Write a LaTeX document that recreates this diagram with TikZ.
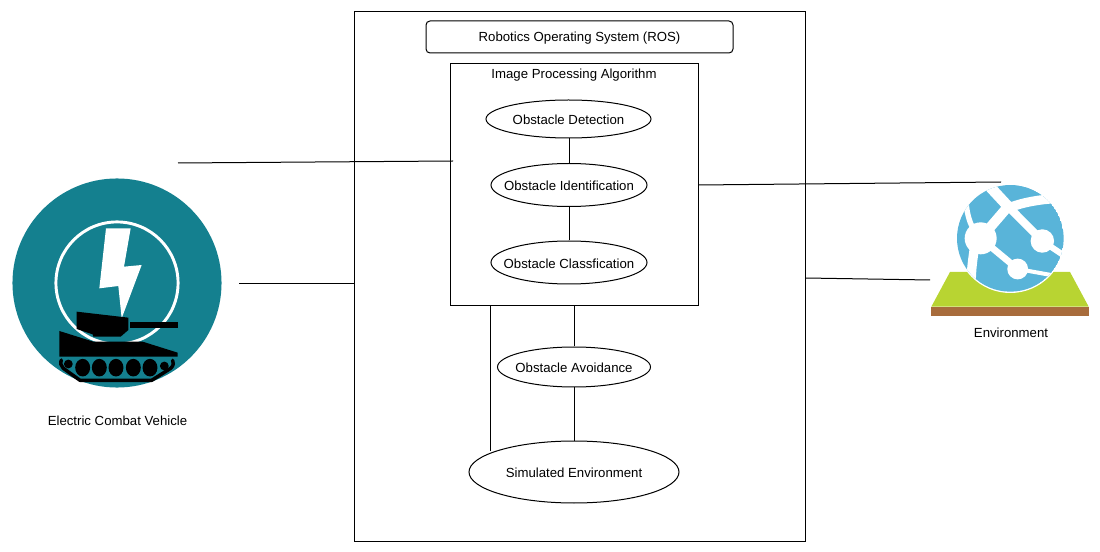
\documentclass[tikz,border=0pt]{standalone}
\usepackage{fontspec}
\setmainfont{Liberation Sans}
\usetikzlibrary{shapes.geometric}

\definecolor{vehicleteal}{HTML}{14808F}
\definecolor{globeblue}{HTML}{59B4D9}
\definecolor{landgreen}{HTML}{B8D432}
\definecolor{landbrown}{HTML}{A86C3C}

\begin{document}
\begin{tikzpicture}[
  x=0.75pt, y=-0.75pt,
  every node/.style={font=\fontsize{9.9}{12}\selectfont},
  every label/.style={yshift=-0.75pt},
  box/.style={rectangle, draw, line width=0.75pt, inner sep=0pt},
  oval/.style={ellipse, draw, line width=0.75pt, inner sep=0pt},
  link/.style={draw, line width=0.75pt},
  caption/.style={inner sep=1pt}
]
\useasboundingbox (0,0) rectangle (1100,552);

% Frames
\node[box, minimum width=338.25pt, minimum height=396.75pt] (ros) at (579.5,276.5) {};
\node[box, rounded corners=3pt, minimum width=230.25pt, minimum height=24pt, label=center:{Robotics Operating System (ROS)}] (rostitle) at (579.5,37) {};
\node[box, minimum width=186pt, minimum height=181.5pt] (imgbox) at (574,185) {};
\node[caption] (imgtitle) at (574,74.8) {Image Processing Algorithm};

% Ellipses
\node[oval, minimum width=123.75pt, minimum height=28.5pt, label=center:{Obstacle Detection}] (detect) at (568.5,119) {};
\node[oval, minimum width=117pt, minimum height=32.25pt, label=center:{Obstacle Identification}] (identify) at (569,185) {};
\node[oval, minimum width=117pt, minimum height=32.25pt, label=center:{Obstacle Classfication}] (classify) at (569,262.5) {};
\node[oval, minimum width=114.75pt, minimum height=30pt, label=center:{Obstacle Avoidance}] (avoid) at (574,367) {};
\node[oval, minimum width=157.5pt, minimum height=46.5pt, label=center:{Simulated Environment}] (sim) at (574,472) {};

% Free ends
\coordinate (vehtop) at (178,163);
\coordinate (imgin) at (453,161);
\coordinate (vehmid) at (239,284);
\coordinate (envtop) at (1001,182);
\coordinate (envmid) at (930,280);
\coordinate (simleft) at (490,451);

% Links
\draw[link] (detect.south -| identify) -- (identify);
\draw[link] (identify) -- (classify);
\draw[link] (imgbox.south) -- (avoid);
\draw[link] (avoid) -- (sim);
\draw[link] (imgbox.south -| simleft) -- (simleft);
\draw[link] (vehtop) -- (imgin);
\draw[link] (imgbox.east) -- (envtop);
\draw[link] (vehmid) -- (vehmid -| ros.west);
\draw[link] (ros.east |- 0,278) -- (envmid);

% Vehicle icon
\fill[vehicleteal] (117,283) circle (78.4pt);
\draw[white, line width=2.2pt] (117,283) circle (45.8pt);
\begin{scope}[shift={(0,150)}, x=0.25pt, y=-0.25pt]
  \fill[white] (318,235) -- (392,235) -- (372,350) -- (425,345) -- (365,505) -- (355,408) -- (298,415) -- cycle;
\end{scope}
\begin{scope}[shift={(50,305)}, x=0.25pt, y=-0.25pt]
  % Turret and gun
  \fill[black] (80,20) -- (235,38) -- (235,75) -- (212,95) -- (130,95) -- (128,88) -- (80,72) -- cycle;
  \fill[black] (240,50) rectangle (385,68);
  % Hull
  \fill[black] (28,78) -- (130,110) -- (278,110) -- (383,143) -- (383,155) -- (28,155) -- cycle;
  % Track
  \draw[black, line width=2.6pt, line cap=round, line join=round] (34,165) .. controls (30,175) and (33,183) .. (40,190) -- (90,226) -- (305,226) -- (362,190) .. controls (371,182) and (372,172) .. (368,166);
  % Wheels
  \fill[black] (55,177) circle (3.3pt);
  \fill[black] (343,183) circle (3.3pt);
  \foreach \wx in {98,148,198,250,300} {
    \fill[black] (\wx,188) ellipse (5.6pt and 6.6pt);
  }
\end{scope}
\node[caption] (vehcap) at (117.5,420.8) {Electric Combat Vehicle};

% Environment icon
\begin{scope}[shift={(900,170)}, x=0.25pt, y=-0.25pt]
  \fill[landgreen] (150,306) -- (510,306) -- (566,410) -- (94,410) -- cycle;
  \fill[landbrown] (94,410) rectangle (566,438);
\end{scope}
\begin{scope}[shift={(950,180)}, x=0.25pt, y=-0.25pt]
  \fill[white] (181,175) circle (41pt);
  \clip (181,175) circle (40pt);
  \fill[globeblue] (181,175) circle (40pt);
  % Bands
  \draw[white, line width=8pt] (110,10) -- (175,80);
  \draw[white, line width=6pt] (175,80) -- (277,183);
  \draw[white, line width=4.5pt] (277,183) -- (350,232);
  \draw[white, line width=7.5pt] (92,175) -- (172,82);
  \draw[white, line width=7pt] (172,85) .. controls (210,70) and (260,58) .. (330,55);
  \draw[white, line width=4pt] (48,60) .. controls (50,110) and (65,150) .. (92,175);
  \draw[white, line width=7pt] (75,190) .. controls (70,230) and (62,270) .. (64,320);
  \draw[white, line width=5pt] (92,175) -- (203,267);
  \draw[white, line width=3pt] (203,267) -- (320,288);
  \fill[white] (92,175) circle (12pt);
  \fill[white] (277,183) circle (8.8pt);
  \fill[white] (203,267) circle (7.8pt);
\end{scope}
\node[caption] (envcap) at (1011,332.8) {Environment};

\end{tikzpicture}
\end{document}
